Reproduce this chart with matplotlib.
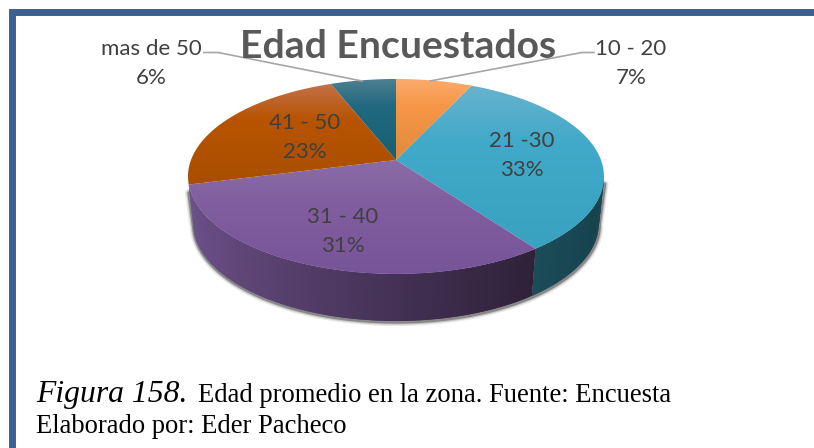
import numpy as np
import matplotlib
matplotlib.use('Agg')
import matplotlib.pyplot as plt
from matplotlib.colors import to_rgb, LinearSegmentedColormap
from matplotlib.patches import Polygon, Rectangle

W, H = 814, 448

categories = ['10 - 20', '21 -30', '31 - 40', '41 - 50', 'mas de 50']
shares = [7, 33, 31, 23, 6]

# top face gradient, back of the slice -> front of the slice
top_colors = [('#fbab6e', '#f79646', '#df8a3c'), ('#68b3cd', '#41a9c9', '#38a2c0'),
              ('#8b6ca7', '#825fa0', '#775398'), ('#c4714a', '#b85400', '#a84e00'),
              ('#4f7f92', '#20697e', '#185f73')]
# side wall, from the left of the slice to the right of it as seen on screen
side_colors = [('#7a4a1c', '#7a4a1c'), ('#1b4e5a', '#17424e'), ('#6c5089', '#2f2139'),
               ('#6a3a10', '#6a3a10'), ('#123845', '#123845')]

# where the disc sits on the page, pixels
CX, CY = 396, 160
SX, SY, PERSP = 205, 94.7, 0.169
DEPTH, SHRINK = 47, 0.975
WALL_FROM, WALL_TO = 99, 256


def project(deg):
    # angle clockwise from the back of the disc -> screen pixels
    a = np.radians(deg)
    u, v = np.sin(a), np.cos(a)
    w = 1 + PERSP * v
    return CX + SX * u / w, CY - SY * v / w


def lower(x, y):
    return CX + (x - CX) * SHRINK, y + DEPTH


fig = plt.figure(figsize=(W / 100, H / 100), dpi=100)
ax = fig.add_axes([0, 0, 1, 1])
ax.set_xlim(0, W)
ax.set_ylim(H, 0)
ax.axis('off')

# blue frame, runs off the right and the bottom of the page
ax.add_patch(Rectangle((11.5, 12.5), W + 20, H + 20, fc='white', ec='#3c6090', lw=5, zorder=1))

edges = np.concatenate([[0], np.cumsum(shares)]) / sum(shares) * 360

# soft shadow under the wall, also up the two outer ends
arc = np.linspace(WALL_FROM, WALL_TO, 200)
top_x, top_y = project(arc)
low_x, low_y = lower(top_x, top_y)
sh_x = np.r_[top_x[0], low_x, top_x[-1]]
sh_y = np.r_[top_y[0] + 8, low_y, top_y[-1] + 8]
for lw, alpha in [(6, 0.1), (4, 0.2), (2.5, 0.4)]:
    ax.plot(sh_x + 0.5, sh_y + 1, color='#303030', lw=lw, alpha=alpha, zorder=2,
            solid_capstyle='round')

# side wall, thin overlapping strips so the shading can run along it
for i in range(len(shares)):
    a0, a1 = edges[i], edges[i + 1]
    angs = np.arange(max(a0, WALL_FROM), min(a1, WALL_TO) + 0.5, 1.0)
    if len(angs) < 2:
        continue
    x0 = project(angs)[0]
    c_r, c_l = to_rgb(side_colors[i][1]), to_rgb(side_colors[i][0])
    for j in range(len(angs) - 1):
        xt, yt = project(angs[j:j + 3])
        xb, yb = lower(xt, yt)
        t = (xt.mean() - x0.min()) / max(x0.max() - x0.min(), 1)
        col = tuple(np.array(c_l) * (1 - t ** 0.8) + np.array(c_r) * t ** 0.8)
        ax.fill(np.r_[xt, xb[::-1]], np.r_[yt, yb[::-1]], color=col, lw=0, zorder=3)

# top face
for i in range(len(shares)):
    angs = np.linspace(edges[i], edges[i + 1], 120)
    x, y = project(angs)
    pts = np.vstack([[CX, CY], np.c_[x, y]])
    c0, c1, c2 = top_colors[i]
    cmap = LinearSegmentedColormap.from_list('s%d' % i, [(0, c0), (0.35, c1), (1, c2)])
    grad = np.linspace(0, 1, 256).reshape(-1, 1)
    im = ax.imshow(grad, cmap=cmap, aspect='auto', zorder=4,
                   extent=(180, 612, pts[:, 1].max(), pts[:, 1].min()))
    im.set_clip_path(Polygon(pts, transform=ax.transData))
ax.set_xlim(0, W)
ax.set_ylim(H, 0)

# leader lines
ax.plot([204, 218, 362], [52.5, 52.5, 81], color='#a6a6a6', lw=1.2, zorder=5)
ax.plot([430, 582, 594], [81, 52.5, 52.5], color='#a6a6a6', lw=1.2, zorder=5)

# labels
label_x = [631, 522, 343, 305, 151]
label_y = [49, 141, 217, 123, 49]
for name, share, lx, ly in zip(categories, shares, label_x, label_y):
    ax.text(lx, ly, name, family='Lato', fontsize=16, color='#404040',
            ha='center', va='center', zorder=6)
    ax.text(lx, ly + 29, '%d%%' % share, family='Lato', fontsize=16, color='#404040',
            ha='center', va='center', zorder=6)

ax.text(398, 47, 'Edad Encuestados', family='Lato', fontweight='bold', fontsize=28.2,
        color='#595959', ha='center', va='center', zorder=7)

# caption
ax.text(36, 402, 'Figura 158.', family='Liberation Serif', style='italic', fontsize=22.8,
        color='black', ha='left', va='baseline', zorder=6)
ax.text(198, 402, 'Edad promedio en la zona. Fuente: Encuesta', family='Liberation Serif',
        fontsize=19.2, color='black', ha='left', va='baseline', zorder=6)
ax.text(36, 433, 'Elaborado por: Eder Pacheco', family='Liberation Serif',
        fontsize=19.2, color='black', ha='left', va='baseline', zorder=6)

fig.savefig('out.png', dpi=100)
